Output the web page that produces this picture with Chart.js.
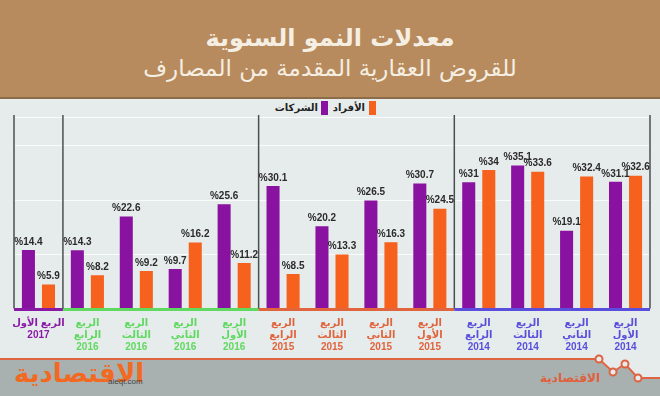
<!DOCTYPE html>
<html>
<head>
<meta charset="utf-8">
<script src="https://cdn.jsdelivr.net/npm/chart.js@4.4.0/dist/chart.umd.min.js"></script>
<style>
  body { margin: 0; width: 660px; height: 396px; overflow: hidden; background: #e6ebeb; position: relative; font-family: "DejaVu Sans", sans-serif; }
  #header { position: absolute; left: 0; top: 0; width: 660px; height: 97px; background: #b78b5d; border-bottom: 2px solid #8c6b49; }
  #title { position: absolute; top: 24px; width: 660px; text-align: center; color: #f5eee2; font-size: 24px; font-weight: bold; direction: rtl; }
  #subtitle { position: absolute; top: 55px; width: 660px; text-align: center; color: #f5eee2; font-size: 23px; direction: rtl; }
  .legtext { position: absolute; top: 101px; height: 14px; font-size: 10px; font-weight: bold; color: #222; direction: rtl; line-height: 14px; white-space: nowrap; }
  .swatch { position: absolute; top: 101px; width: 7px; height: 14px; }
  #footer { position: absolute; left: 0; top: 0; }
  #chart { position: absolute; left: 0; top: 97px; }
  #logo1 { position: absolute; left: 14px; top: 358px; color: #f26a22; font-size: 26px; font-weight: bold; direction: rtl; }
  #site { position: absolute; left: 108px; top: 377px; color: #444; font-size: 8px; font-family: "Liberation Sans", sans-serif; }
  #logo2 { position: absolute; left: 540px; top: 371px; color: #e0603a; font-size: 12px; font-weight: bold; direction: rtl; }
</style>
</head>
<body>
<div id="header">
  <div id="title">معدلات النمو السنوية</div>
  <div id="subtitle">للقروض العقارية المقدمة من المصارف</div>
</div>
<div class="legtext" style="right:342px">الشركات</div>
<div class="swatch" style="left:321px;background:#8a12a0"></div>
<div class="legtext" style="right:295px">الأفراد</div>
<div class="swatch" style="left:369px;background:#f6611e"></div>

<svg id="footer" width="660" height="396">
  <polygon points="0,360 599,360 613,373 625,365 638,379 660,379 660,396 0,396" fill="#a8b0b0"/>
  <polyline points="0,359 599,359 613,372 625,364 638,378 660,378" fill="none" stroke="#de6441" stroke-width="2"/>
  <circle cx="599" cy="359" r="3.5" fill="#e6ebeb" stroke="#de6441" stroke-width="2"/>
  <circle cx="613" cy="372" r="3.5" fill="#e6ebeb" stroke="#de6441" stroke-width="2"/>
  <circle cx="625" cy="364" r="3.5" fill="#e6ebeb" stroke="#de6441" stroke-width="2"/>
  <circle cx="638" cy="378" r="3.5" fill="#e6ebeb" stroke="#de6441" stroke-width="2"/>
</svg>
<div id="logo1">الاقتصادية</div>
<div id="site">aleqt.com</div>
<div id="logo2">الاقتصادية</div>

<canvas id="chart" width="660" height="257"></canvas>

<script>
// Quarters, read right to left in the original (latest quarter on the left)
var quarters = ['الأول', 'الرابع', 'الثالث', 'الثاني', 'الأول', 'الرابع', 'الثالث', 'الثاني', 'الأول', 'الرابع', 'الثالث', 'الثاني', 'الأول'];
var years = [2017, 2016, 2016, 2016, 2016, 2015, 2015, 2015, 2015, 2014, 2014, 2014, 2014];

// Growth rates (%)
var companies = [14.4, 14.3, 22.6, 9.7, 25.6, 30.1, 20.2, 26.5, 30.7, 31, 35.1, 19.1, 31.1];
var individuals = [5.9, 8.2, 9.2, 16.2, 11.2, 8.5, 13.3, 16.3, 24.5, 34, 33.6, 32.4, 32.6];

var seriesNames = ['الشركات', 'الأفراد'];
var yearColors = { 2017: '#8a1aa6', 2016: '#5fd95f', 2015: '#e0643c', 2014: '#5a4fdc' };

var labels = quarters.map(function (q, i) {
    // the single 2017 quarter is written on one line
    if (i === 0) return ['الربع ' + q, String(years[i])];
    return ['الربع', q, String(years[i])];
});

// Separators between years and coloured baselines
var yearGroups = {
    id: 'yearGroups',
    beforeDatasetsDraw: function (chart) {
        var ctx = chart.ctx;
        var x = chart.scales.x;
        var area = chart.chartArea;
        var half = (x.getPixelForValue(1) - x.getPixelForValue(0)) / 2;
        var start = 0;
        ctx.save();
        for (var i = 1; i <= years.length; i++) {
            if (i === years.length || years[i] !== years[start]) {
                var left = x.getPixelForValue(start) - half;
                var right = x.getPixelForValue(i - 1) + half;
                ctx.strokeStyle = yearColors[years[start]];
                ctx.lineWidth = 3;
                ctx.beginPath();
                ctx.moveTo(left, area.bottom + 1);
                ctx.lineTo(right, area.bottom + 1);
                ctx.stroke();
                start = i;
            }
        }
        ctx.strokeStyle = '#4a4f4f';
        ctx.lineWidth = 1.5;
        for (var j = 0; j <= years.length; j++) {
            if (j === 0 || j === years.length || years[j] !== years[j - 1]) {
                var px = (j === years.length ? x.getPixelForValue(j - 1) + half : x.getPixelForValue(j) - half);
                ctx.beginPath();
                ctx.moveTo(px, area.top - 2);
                ctx.lineTo(px, area.bottom);
                ctx.stroke();
            }
        }
        ctx.restore();
    }
};

// Value labels above the bars
var valueLabels = {
    id: 'valueLabels',
    afterDatasetsDraw: function (chart) {
        var ctx = chart.ctx;
        ctx.save();
        ctx.font = 'bold 10px "Liberation Sans", sans-serif';
        ctx.fillStyle = '#2b2b2b';
        ctx.textAlign = 'center';
        ctx.textBaseline = 'bottom';
        chart.data.datasets.forEach(function (ds, d) {
            chart.getDatasetMeta(d).data.forEach(function (bar, i) {
                ctx.fillText('%' + ds.data[i], bar.x, bar.y - 3);
            });
        });
        ctx.restore();
    }
};

new Chart(document.getElementById('chart'), {
    type: 'bar',
    data: {
        labels: labels,
        datasets: [
            { label: seriesNames[0], data: companies, backgroundColor: '#8a12a0' },
            { label: seriesNames[1], data: individuals, backgroundColor: '#f6611e' }
        ]
    },
    options: {
        responsive: false,
        animation: false,
        devicePixelRatio: 1,
        categoryPercentage: 0.82,
        barPercentage: 0.65,
        layout: { padding: { left: 14, right: 10, top: 20, bottom: 0 } },
        plugins: { legend: { display: false }, tooltip: { enabled: false } },
        scales: {
            x: {
                grid: { display: false },
                border: { display: false },
                ticks: {
                    padding: 1,
                    maxRotation: 0,
                    autoSkip: false,
                    font: { family: '"Liberation Sans", "DejaVu Sans", sans-serif', size: 10, weight: 'bold', lineHeight: 1.18 },
                    color: function (c) { return yearColors[years[c.index]]; }
                }
            },
            y: {
                min: 0,
                max: 47,
                ticks: { display: false, stepSize: 13.3 },
                grid: { color: 'rgba(255,255,255,0.8)', drawTicks: false },
                border: { display: false }
            }
        }
    },
    plugins: [yearGroups, valueLabels]
});
</script>
</body>
</html>
